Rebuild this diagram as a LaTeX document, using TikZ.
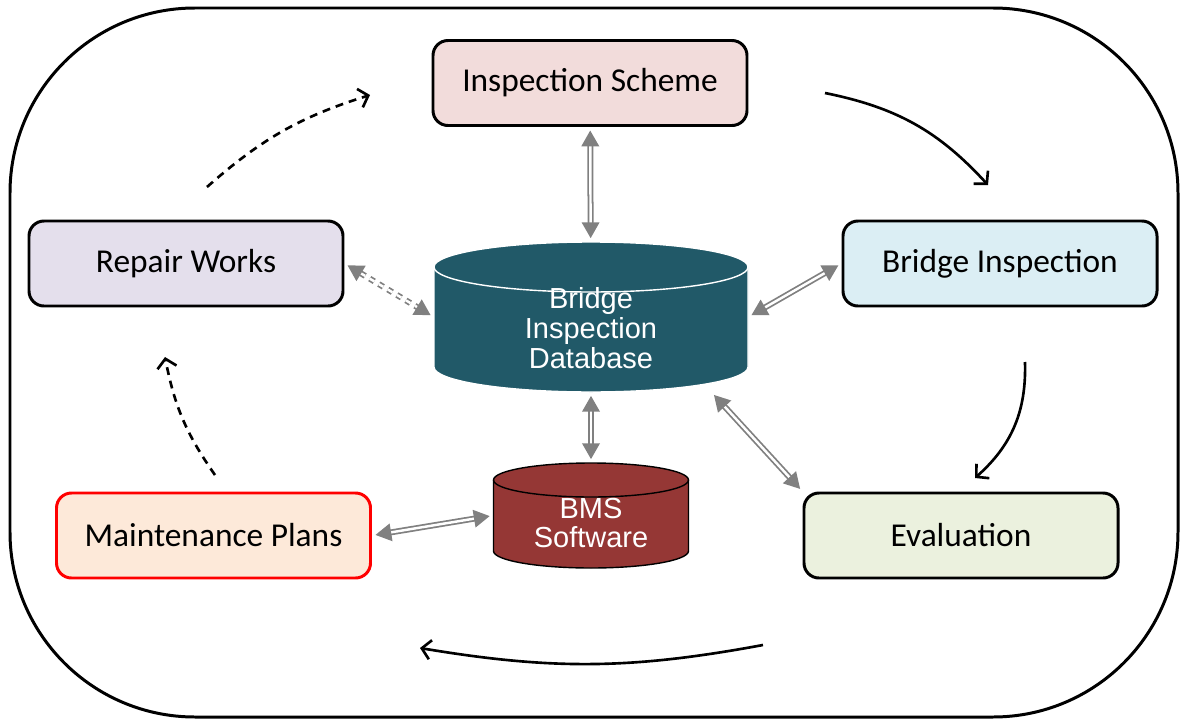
\documentclass[tikz,border=0pt]{standalone}
\usepackage{fontspec}
\setmainfont{Carlito}
\newfontfamily\arialfont{Liberation Sans}
\usetikzlibrary{arrows.meta}
\definecolor{schemefill}{HTML}{F2DCDB}
\definecolor{repairfill}{HTML}{E4DFEC}
\definecolor{inspfill}{HTML}{DBEEF4}
\definecolor{plansfill}{HTML}{FDE9D9}
\definecolor{evalfill}{HTML}{EBF1DE}
\definecolor{dbfill}{HTML}{215968}
\definecolor{bmsfill}{HTML}{953735}
\definecolor{linkgray}{HTML}{808080}
\begin{document}
\begin{tikzpicture}[
    stagebox/.style={draw, line width=1.7pt, rounded corners=0.3cm, minimum width=6.28cm, minimum height=1.7cm, font=\fontsize{19}{22}\selectfont},
    dbtext/.style={text=white, align=center, font=\arialfont\fontsize{16.5}{17}\selectfont},
    link/.style={draw=linkgray, double=white, double distance=1.4pt, line width=1pt, {Triangle[length=9pt, width=10pt]}-{Triangle[length=9pt, width=10pt]}, shorten >=2pt, shorten <=2pt},
    flow/.style={line width=1.5pt, -{Straight Barb[length=5pt, width=11pt]}},
    flowdash/.style={flow, dash pattern=on 4.5pt off 3.4pt},
]
    \useasboundingbox (0, 0) rectangle (23.6, -14.4);
    \draw[line width=1.7pt, rounded corners=3.7cm] (0.2, -0.16) rectangle (23.56, -14.34);

    \node[stagebox, fill=schemefill] (scheme) at (11.8, -1.66) {Inspection Scheme};
    \node[stagebox, fill=repairfill] (repair) at (3.72, -5.27) {Repair Works};
    \node[stagebox, fill=inspfill] (inspection) at (20.0, -5.27) {Bridge Inspection};
    \node[stagebox, fill=plansfill, draw=red] (plans) at (4.27, -10.71) {Maintenance Plans};
    \node[stagebox, fill=evalfill] (evaluation) at (19.22, -10.71) {Evaluation};

    % database cylinder
    \filldraw[fill=dbfill, draw=white, line width=0.8pt] (8.68, -5.34) -- (8.68, -7.34) arc[start angle=180, end angle=360, x radius=3.14, y radius=0.5] -- (14.96, -5.34) arc[start angle=0, end angle=180, x radius=3.14, y radius=0.5] -- cycle;
    \draw[white, line width=0.8pt] (8.68, -5.34) arc[start angle=180, end angle=360, x radius=3.14, y radius=0.5];
    \node[minimum width=6.28cm, minimum height=3.0cm, label={[dbtext, yshift=-0.22cm]center:Bridge\\Inspection\\Database}] (db) at (11.82, -6.34) {};

    % BMS cylinder
    \filldraw[fill=bmsfill, draw=black, line width=0.8pt] (9.87, -9.6) -- (9.87, -11.02) arc[start angle=180, end angle=360, x radius=1.95, y radius=0.34] -- (13.77, -9.6) arc[start angle=0, end angle=180, x radius=1.95, y radius=0.34] -- cycle;
    \draw[black, line width=0.8pt] (9.87, -9.6) arc[start angle=180, end angle=360, x radius=1.95, y radius=0.34];
    \node[minimum width=3.9cm, minimum height=2.1cm, label={[dbtext, yshift=-0.15cm]center:BMS\\Software}] (bms) at (11.82, -10.31) {};

    \draw[link] (scheme) -- (db);
    \draw[link, dashed] (repair.east) -- (db.west);
    \draw[link] (inspection.west) -- (db.east);
    \draw[link] (db.-32) -- (evaluation.north west);
    \draw[link] (db) -- (bms);
    \draw[link] (plans.east) -- (bms.west);

    % cycle of the inspection process
    \coordinate (a1) at (16.5, -1.86);
    \coordinate (a2) at (19.76, -3.7);
    \coordinate (b1) at (20.5, -7.24);
    \coordinate (b2) at (19.5, -9.56);
    \coordinate (c1) at (15.26, -12.9);
    \coordinate (c2) at (8.4, -12.96);
    \coordinate (d1) at (4.3, -9.5);
    \coordinate (d2) at (3.3, -7.14);
    \coordinate (e1) at (4.14, -3.74);
    \coordinate (e2) at (7.4, -1.9);
    \draw[flow] (a1) to[bend left=18] (a2);
    \draw[flow] (b1) to[bend left=25] (b2);
    \draw[flow] (c1) to[bend left=10] (c2);
    \draw[flowdash] (d1) to[bend left=12] (d2);
    \draw[flowdash] (e1) to[bend left=12] (e2);
\end{tikzpicture}
\end{document}
